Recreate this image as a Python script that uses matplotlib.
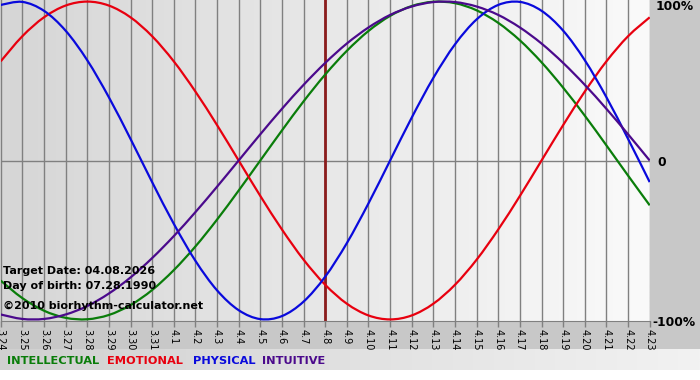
import numpy as np
import matplotlib
matplotlib.use('Agg')
import matplotlib.pyplot as plt
from matplotlib.path import Path
from matplotlib.patches import PathPatch

# days shown on the x axis (month.day)
days = ['3.24', '3.25', '3.26', '3.27', '3.28', '3.29', '3.30', '3.31',
        '4.1', '4.2', '4.3', '4.4', '4.5', '4.6', '4.7', '4.8', '4.9', '4.10',
        '4.11', '4.12', '4.13', '4.14', '4.15', '4.16', '4.17', '4.18', '4.19',
        '4.20', '4.21', '4.22', '4.23']
target_day = '4.8'

# daily values (-1 .. 1)
physical = [0.979, 0.998, 0.942, 0.817, 0.631, 0.398, 0.136, -0.136, -0.398,
            -0.631, -0.817, -0.942, -0.998, -0.979, -0.888, -0.731, -0.520,
            -0.270, 0.0, 0.270, 0.520, 0.731, 0.888, 0.979, 0.998, 0.942,
            0.817, 0.631, 0.398, 0.136, -0.136]
emotional = [0.624, 0.782, 0.901, 0.975, 1.0, 0.975, 0.901, 0.782, 0.624,
             0.434, 0.223, 0.0, -0.223, -0.434, -0.624, -0.782, -0.901,
             -0.975, -1.0, -0.975, -0.901, -0.782, -0.624, -0.434, -0.223,
             0.0, 0.223, 0.434, 0.624, 0.782, 0.901]
intellectual = [-0.756, -0.866, -0.945, -0.990, -0.999, -0.972, -0.910,
                -0.815, -0.690, -0.541, -0.372, -0.189, 0.0, 0.189, 0.372,
                0.541, 0.690, 0.815, 0.910, 0.972, 0.999, 0.990, 0.945,
                0.866, 0.756, 0.618, 0.458, 0.282, 0.095, -0.095, -0.282]
intuitive = [-0.969, -0.997, -0.997, -0.969, -0.916, -0.837, -0.736, -0.614,
             -0.476, -0.325, -0.165, 0.0, 0.165, 0.325, 0.476, 0.614, 0.736,
             0.837, 0.916, 0.969, 0.997, 0.997, 0.969, 0.916, 0.837, 0.736,
             0.614, 0.476, 0.325, 0.165, 0.0]

info = ['Target Date: 04.08.2026', 'Day of birth: 07.28.1990',
        '\u00a92010 biorhythm-calculator.net']
legend_names = ['INTELLECTUAL', 'EMOTIONAL', 'PHYSICAL', 'INTUITIVE']
colors = ['#0a7d0a', '#e8000f', '#0a0adc', '#4b0a8c']

FONT = 'DejaVu Sans'
W, H = 700, 380


def smooth_path(xs, ys):
    # bezier path through the points (catmull-rom style handles)
    xs = np.asarray(xs, float)
    ys = np.asarray(ys, float)
    verts = [(xs[0], ys[0])]
    codes = [Path.MOVETO]
    n = len(xs)
    for i in range(n - 1):
        x0, y0 = xs[max(i - 1, 0)], ys[max(i - 1, 0)]
        x1, y1 = xs[i], ys[i]
        x2, y2 = xs[i + 1], ys[i + 1]
        x3, y3 = xs[min(i + 2, n - 1)], ys[min(i + 2, n - 1)]
        verts += [(x1 + (x2 - x0) / 6, y1 + (y2 - y0) / 6),
                  (x2 - (x3 - x1) / 6, y2 - (y3 - y1) / 6),
                  (x2, y2)]
        codes += [Path.CURVE4] * 3
    return Path(verts, codes)


fig = plt.figure(figsize=(7, 3.8), dpi=100)

# background of whole picture
bg = fig.add_axes([0, 0, 1, 1])
bg.axis('off')
bg.axhspan(0, 349, color='#c8c8c8', lw=0)
grad = np.linspace(0, 1, 256)[None, :]
bg.imshow(grad, extent=[0, W, 370, 349], aspect='auto',
          cmap=matplotlib.colors.LinearSegmentedColormap.from_list('g', ['#d0d0d0', '#f2f2f2']))
bg.set_xlim(0, W)
bg.set_ylim(H, 0)

# plot area
ax = fig.add_axes([0.001, 1 - 321 / H, 649 / W, 321 / H])
x = np.arange(len(days))
ax.set_xlim(0, len(days) - 1)
ax.set_ylim(-1.01, 1.01)
ax.imshow(grad, extent=[0, len(days) - 1, -1.01, 1.01], aspect='auto', zorder=0,
          cmap=matplotlib.colors.LinearSegmentedColormap.from_list('p', ['#d6d6d6', '#fafafa']))
for xi in x:
    ax.axvline(xi, color='#808080', lw=1, zorder=1)
ax.axhline(0, color='#808080', lw=1, zorder=1)
ax.axvline(days.index(target_day), color='#8b1c1c', lw=2, zorder=2)

for vals, c in zip([intellectual, emotional, physical, intuitive], colors):
    ax.add_patch(PathPatch(smooth_path(x, vals), fill=False, edgecolor=c,
                           lw=1.6, zorder=3))

ax.set_xticks(x)
ax.set_xticklabels(days, rotation=-90, fontsize=7, family=FONT)
ax.tick_params(axis='x', length=4, width=1, color='#808080', pad=2)
ax.set_yticks([])
for s in ['top', 'right', 'left']:
    ax.spines[s].set_visible(False)
ax.spines['bottom'].set_color('#808080')

ty = [271, 286, 306]
for t, yy in zip(info, ty):
    fig.text(3 / W, 1 - yy / H, t, fontsize=8, fontweight='bold', family=FONT,
             va='center', ha='left')

for lbl, xx, yy in [('100%', 656, 7), ('0', 657, 162), ('-100%', 652, 322)]:
    fig.text(xx / W, 1 - yy / H, lbl, fontsize=8.8, fontweight='bold',
             family=FONT, va='center', ha='left')

lx = [7, 107, 193, 262]
for name, c, xx in zip(legend_names, colors, lx):
    fig.text(xx / W, 1 - 361 / H, name, color=c, fontsize=8.2, fontweight='bold',
             family=FONT, va='center', ha='left')

fig.savefig('out.png', dpi=100)
